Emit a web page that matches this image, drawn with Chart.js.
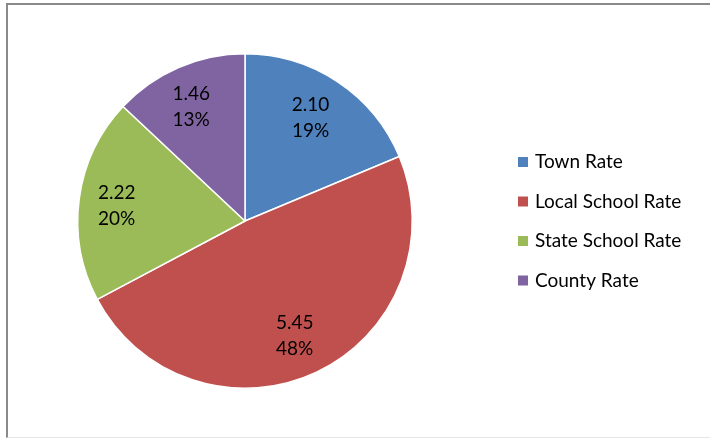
<!DOCTYPE html>
<html>
<head>
<meta charset="utf-8">
<script src="https://cdn.jsdelivr.net/npm/chart.js@4/dist/chart.umd.min.js"></script>
<style>
  html, body { margin: 0; padding: 0; background: #fff; }
  #wrap { position: relative; width: 710px; height: 440px; }
  #frame {
    position: absolute; left: 6px; top: 3px; width: 720px; height: 435px;
    border-left: 2px solid #8a8a8a; border-top: 2px solid #8a8a8a;
    border-bottom: 1px solid #e6e6e6; box-sizing: border-box;
  }
  canvas { position: absolute; left: 0; top: 0; }
</style>
</head>
<body>
<div id="wrap">
  <div id="frame"></div>
  <canvas id="chart" width="710" height="440"></canvas>
</div>
<script>
// Tax rate breakdown
const categories = ['Town Rate', 'Local School Rate', 'State School Rate', 'County Rate'];
const rates = [2.10, 5.45, 2.22, 1.46];
const percentLabels = ['19%', '48%', '20%', '13%'];
const colors = ['#4F81BD', '#C0504D', '#9BBB59', '#8064A2'];

const FONT = 'Lato, "Open Sans", sans-serif';

// value + percent labels inside the slices
const sliceLabels = {
    id: 'sliceLabels',
    afterDatasetsDraw(chart) {
        const ctx = chart.ctx;
        const meta = chart.getDatasetMeta(0);
        ctx.save();
        ctx.fillStyle = '#000';
        ctx.font = '19px ' + FONT;
        ctx.textAlign = 'center';
        ctx.textBaseline = 'middle';
        meta.data.forEach((arc, i) => {
            const mid = (arc.startAngle + arc.endAngle) / 2;
            const r = arc.outerRadius * 0.75;
            const x = arc.x + Math.cos(mid) * r;
            const y = arc.y + Math.sin(mid) * r;
            ctx.fillText(rates[i].toFixed(2), x - 4, y - 12);
            ctx.fillText(percentLabels[i], x - 4, y + 14);
        });
        ctx.restore();
    }
};

// legend on the right, drawn by hand
const sideLegend = {
    id: 'sideLegend',
    afterDraw(chart) {
        const ctx = chart.ctx;
        ctx.save();
        ctx.font = '19px ' + FONT;
        ctx.textBaseline = 'middle';
        categories.forEach((name, i) => {
            const y = 162 + i * 39.5;
            ctx.fillStyle = colors[i];
            ctx.fillRect(518, y - 5, 10, 10);
            ctx.fillStyle = '#000';
            ctx.fillText(name, 535, y);
        });
        ctx.restore();
    }
};

new Chart(document.getElementById('chart'), {
    type: 'pie',
    data: {
        labels: categories,
        datasets: [{
            data: rates,
            backgroundColor: colors,
            borderColor: '#fff',
            borderWidth: 1.5
        }]
    },
    options: {
        responsive: false,
        animation: false,
        layout: { padding: { left: 77, right: 297, top: 53, bottom: 51 } },
        plugins: {
            legend: { display: false },
            tooltip: { enabled: false }
        }
    },
    plugins: [sliceLabels, sideLegend]
});
</script>
</body>
</html>
